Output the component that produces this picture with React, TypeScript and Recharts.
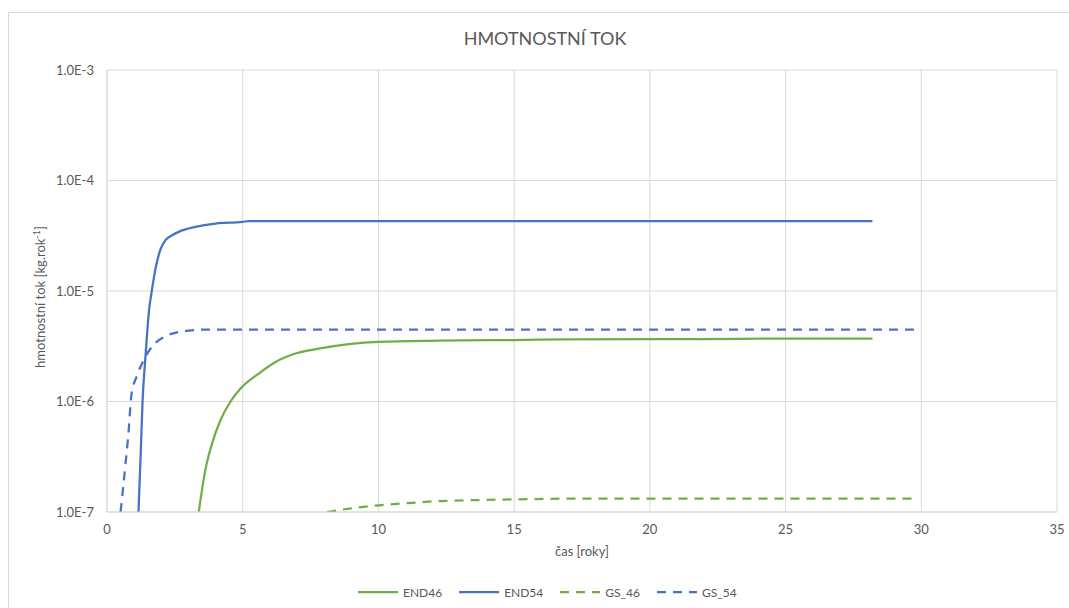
import React from 'react';
import { LineChart, Line, XAxis, YAxis, CartesianGrid } from 'recharts';

const xTicks = [0, 5, 10, 15, 20, 25, 30, 35];
const yTicks = [1e-7, 1e-6, 1e-5, 1e-4, 1e-3];

const end46T = [3.38, 3.62, 3.87, 4.18, 4.55, 4.92, 5.59, 6.21, 6.94, 7.8, 8.91, 10.0, 12.2, 15, 17, 20, 24, 28.2];
const end46V = [1e-7, 2.38e-7, 4.16e-7, 6.76e-7, 1.0e-6, 1.31e-6, 1.79e-6, 2.28e-6, 2.72e-6, 3.01e-6, 3.3e-6, 3.46e-6, 3.55e-6, 3.6e-6, 3.65e-6, 3.66e-6, 3.7e-6, 3.71e-6];

const end54T = [1.16, 1.24, 1.31, 1.42, 1.55, 1.65, 1.8, 1.96, 2.15, 2.4, 2.64, 3.25, 4.0, 5.0, 5.2, 10, 15, 20, 25, 28.2];
const end54V = [1e-7, 3.3e-7, 1.0e-6, 2.6e-6, 6.7e-6, 1.0e-5, 1.65e-5, 2.34e-5, 2.88e-5, 3.2e-5, 3.43e-5, 3.8e-5, 4.08e-5, 4.22e-5, 4.3e-5, 4.3e-5, 4.3e-5, 4.3e-5, 4.3e-5, 4.3e-5];

const gs46T = [8.11, 9.0, 10.02, 11, 12.1, 13.5, 15, 17, 20, 25, 29.7];
const gs46V = [1e-7, 1.08e-7, 1.15e-7, 1.2e-7, 1.25e-7, 1.28e-7, 1.3e-7, 1.32e-7, 1.32e-7, 1.32e-7, 1.32e-7];

const gs54T = [0.5, 0.67, 0.79, 0.9, 1.1, 1.35, 1.65, 2.15, 2.64, 3.0, 3.75, 5, 10, 20, 29.87];
const gs54V = [1e-7, 2.55e-7, 5.15e-7, 1.15e-6, 1.7e-6, 2.36e-6, 3.12e-6, 3.89e-6, 4.26e-6, 4.38e-6, 4.48e-6, 4.48e-6, 4.48e-6, 4.48e-6, 4.48e-6];

const build = (ts: number[], vs: number[]) => ts.map((t, i) => ({ t, v: vs[i] }));

const series = [
  { name: 'END46', data: build(end46T, end46V), color: '#70AD47', dash: undefined as string | undefined },
  { name: 'END54', data: build(end54T, end54V), color: '#4472C4', dash: undefined as string | undefined },
  { name: 'GS_46', data: build(gs46T, gs46V), color: '#70AD47', dash: '9 7' },
  { name: 'GS_54', data: build(gs54T, gs54V), color: '#4472C4', dash: '9 7' },
];

const FONT = 'Lato, "Open Sans", sans-serif';
const TXT = '#595959';
const GRID = '#d9d9d9';

const fmtY = (v: number) => v.toExponential(1).toUpperCase();

export default function App() {
  return (
    <div style={{ position: 'absolute', left: 0, top: 0, width: 1069, height: 608, overflow: 'hidden', background: '#fff', fontFamily: FONT }}>
      <div style={{ position: 'absolute', left: 8, top: 12, width: 1100, height: 700, borderLeft: `1px solid ${GRID}`, borderTop: `1px solid ${GRID}` }} />
      <div style={{ position: 'absolute', left: 0, top: 0 }}>
        <LineChart width={1069} height={608} margin={{ top: 70, right: 12, bottom: 66, left: 0 }}>
          <text x={545} y={45} textAnchor="middle" fill={TXT} fontSize={18} fontFamily={FONT}>HMOTNOSTNÍ TOK</text>
          <CartesianGrid stroke={GRID} strokeWidth={1} />
          <XAxis
            type="number"
            dataKey="t"
            domain={[0, 35]}
            ticks={xTicks}
            interval={0}
            tickLine={false}
            tickSize={0}
            tickMargin={13}
            height={30}
            axisLine={{ stroke: GRID }}
            tick={{ fill: TXT, fontSize: 13, fontFamily: FONT }}
            label={(p: any) => {
              const vb = p.viewBox;
              return (
                <text x={vb.x + vb.width / 2} y={vb.y + 44} textAnchor="middle" fill={TXT} fontSize={13} fontFamily={FONT}>čas [roky]</text>
              );
            }}
          />
          <YAxis
            type="number"
            scale="log"
            domain={[1e-7, 1e-3]}
            ticks={yTicks}
            interval={0}
            allowDataOverflow
            width={107}
            tickLine={false}
            tickSize={0}
            tickMargin={13}
            axisLine={{ stroke: GRID }}
            tickFormatter={fmtY}
            tick={{ fill: TXT, fontSize: 13, fontFamily: FONT }}
            label={(p: any) => {
              const cx = 40;
              const cy = 297;
              return (
                <text x={cx} y={cy} transform={`rotate(-90, ${cx}, ${cy})`} textAnchor="middle" dominantBaseline="central" fill={TXT} fontSize={13} fontFamily={FONT}>
                  hmotnostní tok  [kg.rok<tspan dy={-4} fontSize={9}>-1</tspan><tspan dy={4}>]</tspan>
                </text>
              );
            }}
          />
          {series.map((s) => (
            <Line
              key={s.name}
              data={s.data}
              dataKey="v"
              name={s.name}
              type="monotone"
              stroke={s.color}
              strokeWidth={2.25}
              strokeDasharray={s.dash}
              dot={false}
              activeDot={false}
              isAnimationActive={false}
            />
          ))}
        </LineChart>
      </div>
      <div style={{ position: 'absolute', left: 358, top: 584, display: 'flex', alignItems: 'center', gap: 17, fontSize: 12, color: TXT, whiteSpace: 'nowrap' }}>
        {series.map((s) => (
          <div key={s.name} style={{ display: 'flex', alignItems: 'center' }}>
            <svg width={40} height={16} style={{ marginRight: 5 }}>
              <line x1={0} y1={8} x2={40} y2={8} stroke={s.color} strokeWidth={2.25} strokeDasharray={s.dash} />
            </svg>
            <span>{s.name}</span>
          </div>
        ))}
      </div>
    </div>
  );
}
